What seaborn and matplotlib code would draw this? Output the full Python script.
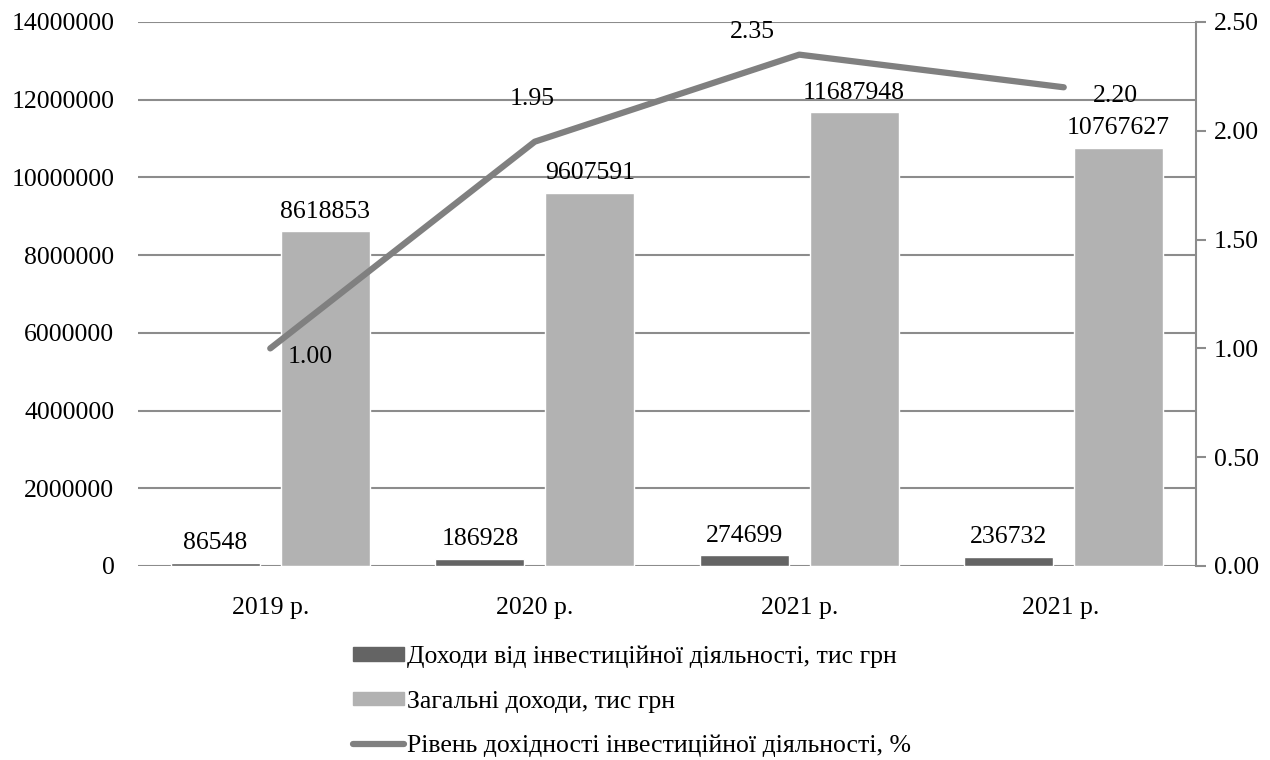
"""Investment income vs total income, with yield line on a secondary axis."""

import numpy as np
import pandas as pd
import matplotlib
matplotlib.use("Agg")
import matplotlib.pyplot as plt
import matplotlib.patches as mpatches
import matplotlib.lines as mlines
import seaborn as sns

YEARS = ["2019 р.", "2020 р.", "2021 р.", "2021 р. "]
INVEST_INCOME = [86548, 186928, 274699, 236732]
TOTAL_INCOME = [8618853, 9607591, 11687948, 10767627]
YIELD_PCT = [1.00, 1.95, 2.35, 2.20]

SERIES = ["Доходи від інвестиційної діяльності, тис грн",
          "Загальні доходи, тис грн"]
LINE_LABEL = "Рівень дохідності інвестиційної діяльності, %"

DARK = "#646464"
LIGHT = "#b2b2b2"
LINE_C = "#808080"
GRID_C = "#8c8c8c"
FS = 18.5

sns.set_theme(style="white")
plt.rcParams["font.family"] = ["Liberation Serif", "DejaVu Serif"]
plt.rcParams["text.color"] = "black"
plt.rcParams["xtick.color"] = "black"
plt.rcParams["ytick.color"] = "black"

df = pd.DataFrame({
    "year": YEARS * 2,
    "series": [SERIES[0]] * 4 + [SERIES[1]] * 4,
    "value": INVEST_INCOME + TOTAL_INCOME,
})

fig = plt.figure(figsize=(12.7, 7.6), dpi=100)
ax = fig.add_axes([138 / 1270, 1 - 566 / 760, (1196 - 138) / 1270, (566 - 22) / 760])

sns.barplot(data=df, x="year", y="value", hue="series", order=YEARS,
            hue_order=SERIES, palette=[DARK, LIGHT], width=0.83, gap=0.19,
            saturation=1, ax=ax, legend=False)

ax.set_ylim(0, 14000000)
ax.set_yticks(np.arange(0, 14000001, 2000000))
ax.set_yticklabels([f"{int(v)}" for v in ax.get_yticks()], fontsize=FS)
ax.set_xlim(-0.5, 3.5)
ax.set_xlabel("")
ax.set_ylabel("")
ax.tick_params(axis="y", length=0, pad=17, labelcolor="black")
ax.tick_params(axis="x", length=0, pad=22, labelsize=FS, labelcolor="black")
ax.yaxis.grid(True, color=GRID_C, lw=1.5)
ax.set_axisbelow(True)
for s in ax.spines.values():
    s.set_visible(False)

for cont in ax.containers:
    for bar in cont:
        h = bar.get_height()
        ax.annotate(f"{int(h)}", (bar.get_x() + bar.get_width() / 2, h),
                    xytext=(0, 6), textcoords="offset points",
                    ha="center", va="bottom", fontsize=FS, color="black")

ax2 = ax.twinx()
sns.lineplot(x=np.arange(len(YEARS)), y=YIELD_PCT, ax=ax2, color=LINE_C,
             lw=4.5, solid_capstyle="round")
ax2.set_ylim(0, 2.5)
ax2.set_yticks(np.arange(0, 2.51, 0.5))
ax2.set_yticklabels([f"{v:.2f}" for v in ax2.get_yticks()], fontsize=FS)
ax2.tick_params(axis="y", length=7, width=1.5, color=GRID_C, pad=6, right=True,
                labelcolor="black")
for side in ["left", "top", "bottom"]:
    ax2.spines[side].set_visible(False)
ax2.spines["right"].set_color(GRID_C)
ax2.spines["right"].set_linewidth(1.5)

# label offsets in points, mimicking the original placement
offsets = [(29, -6), (-2, 31), (-34, 16), (37, -6)]
for i, v in enumerate(YIELD_PCT):
    ax2.annotate(f"{v:.2f}", (i, v), xytext=offsets[i], textcoords="offset points",
                 ha="center", va="center", fontsize=FS, color="black")

handles = [
    mpatches.Patch(color=DARK, label=SERIES[0]),
    mpatches.Patch(color=LIGHT, label=SERIES[1]),
    mlines.Line2D([], [], color=LINE_C, lw=4.5, solid_capstyle="round", label=LINE_LABEL),
]
fig.legend(handles=handles, loc="upper left", bbox_to_anchor=(353 / 1270, 1 - 646 / 760),
           frameon=False, fontsize=FS, handlelength=2.0, handleheight=0.45,
           handletextpad=0.1, labelspacing=0.86, borderaxespad=0, borderpad=0)

fig.savefig("out.png", dpi=100, facecolor="white")
